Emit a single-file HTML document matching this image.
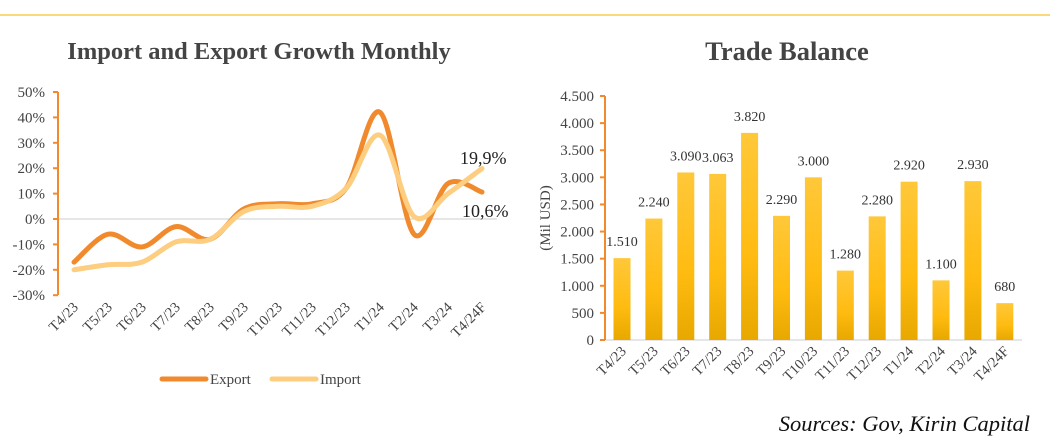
<!DOCTYPE html>
<html><head><meta charset="utf-8">
<style>
html,body{margin:0;padding:0;background:#fff;width:1050px;height:442px;overflow:hidden}
svg{display:block;font-family:"Liberation Serif",serif}
</style></head><body>
<svg id="s" width="1050" height="442" viewBox="0 0 1050 442">
<defs>
<linearGradient id="bg" x1="0" y1="0" x2="0" y2="1">
<stop offset="0" stop-color="#ffc83a"/><stop offset="0.6" stop-color="#ffbb10"/><stop offset="1" stop-color="#e8a800"/>
</linearGradient>
</defs>
<line x1="0" y1="15" x2="1050" y2="15" stroke="#fbd97a" stroke-width="2"/>
<text x="259" y="59" text-anchor="middle" font-size="24.5" font-weight="bold" fill="#444">Import and Export Growth Monthly</text>
<text x="787" y="60" text-anchor="middle" font-size="26.5" font-weight="bold" fill="#444">Trade Balance</text>
<text x="1030" y="431" text-anchor="end" font-size="22.5" font-style="italic" fill="#111">Sources: Gov, Kirin Capital</text>
<g id="g"></g>
</svg>
<script>
var g=document.getElementById('g'),h='';
function t(x,y,s,o){h+='<text x="'+x+'" y="'+y+'" '+(o||'')+'>'+s+'</text>';}
var cats=['T4/23','T5/23','T6/23','T7/23','T8/23','T9/23','T10/23','T11/23','T12/23','T1/24','T2/24','T3/24','T4/24F'];
var y0=219,k=2.54;function Y(v){return y0-v*k;}
h+='<line x1="58" y1="219" x2="497" y2="219" stroke="#ccc" stroke-width="1"/>';
h+='<line x1="58" y1="92" x2="58" y2="295" stroke="#f08a2c" stroke-width="2"/>';
for(var v=-30;v<=50;v+=10){var yy=Y(v);h+='<line x1="53" y1="'+yy+'" x2="58" y2="'+yy+'" stroke="#f08a2c" stroke-width="2"/>';t(45,yy+5,v+'%','text-anchor="end" font-size="15" fill="#444"');}
var ex=[-17,-6,-11,-3,-8,4,6,6,12,42,-6,14,10.6],im=[-20,-18,-17,-9,-8,3,5,5,12,33,1,10,19.9];
function X(i){return 74+i*34;}
function path(a){var p=a.map(function(v,i){return[X(i),Y(v)];});var d='M'+p[0];for(var i=0;i<p.length-1;i++){var p0=p[i-1]||p[i],p1=p[i],p2=p[i+1],p3=p[i+2]||p2;var c1=[p1[0]+(p2[0]-p0[0])/6,p1[1]+(p2[1]-p0[1])/6],c2=[p2[0]-(p3[0]-p1[0])/6,p2[1]-(p3[1]-p1[1])/6];d+='C'+c1+' '+c2+' '+p2;}return d;}
h+='<path d="'+path(ex)+'" fill="none" stroke="#f08a2c" stroke-width="5" stroke-linecap="round"/>';
h+='<path d="'+path(im)+'" fill="none" stroke="#fdcd80" stroke-width="5" stroke-linecap="round"/>';
t(460,164,'19,9%','font-size="18" fill="#222"');t(462,217,'10,6%','font-size="18" fill="#222"');
cats.forEach(function(c,i){t(X(i)+5,308,c,'text-anchor="end" font-size="14.5" fill="#444" transform="rotate(-45 '+(X(i)+5)+' 308)"');});
h+='<line x1="162" y1="379" x2="206" y2="379" stroke="#f08a2c" stroke-width="5" stroke-linecap="round"/>';t(210,384,'Export','font-size="15" fill="#444"');
h+='<line x1="272" y1="379" x2="316" y2="379" stroke="#fdcd80" stroke-width="5" stroke-linecap="round"/>';t(320,384,'Import','font-size="15" fill="#444"');
var b0=340,bk=244/4500;function BY(v){return b0-v*bk;}
h+='<line x1="605" y1="340" x2="1022" y2="340" stroke="#ccc" stroke-width="1"/>';
h+='<line x1="605" y1="96" x2="605" y2="340" stroke="#f08a2c" stroke-width="2"/>';
for(var v=0;v<=4500;v+=500){var yy=BY(v);h+='<line x1="600" y1="'+yy+'" x2="605" y2="'+yy+'" stroke="#f08a2c" stroke-width="2"/>';t(594,yy+5,v==0?'0':(v>=1000?Math.floor(v/1000)+'.'+('00'+v%1000).slice(-3):v),'text-anchor="end" font-size="15" fill="#444"');}
t(0,0,'(Mil USD)','text-anchor="middle" font-size="15" fill="#444" transform="translate(550 218) rotate(-90)"');
var bv=[1510,2240,3090,3063,3820,2290,3000,1280,2280,2920,1100,2930,680],bl=['1.510','2.240','3.090','3.063','3.820','2.290','3.000','1.280','2.280','2.920','1.100','2.930','680'];
bv.forEach(function(v,i){var cx=622+i*31.9,yy=BY(v);h+='<rect x="'+(cx-8.5)+'" y="'+yy+'" width="17" height="'+(340-yy)+'" fill="url(#bg)"/>';t(cx,yy-12,bl[i],'text-anchor="middle" font-size="14" fill="#333"');t(cx+5,352,cats[i],'text-anchor="end" font-size="14.5" fill="#444" transform="rotate(-45 '+(cx+5)+' 352)"');});
g.innerHTML=h;
</script>
</body></html>
